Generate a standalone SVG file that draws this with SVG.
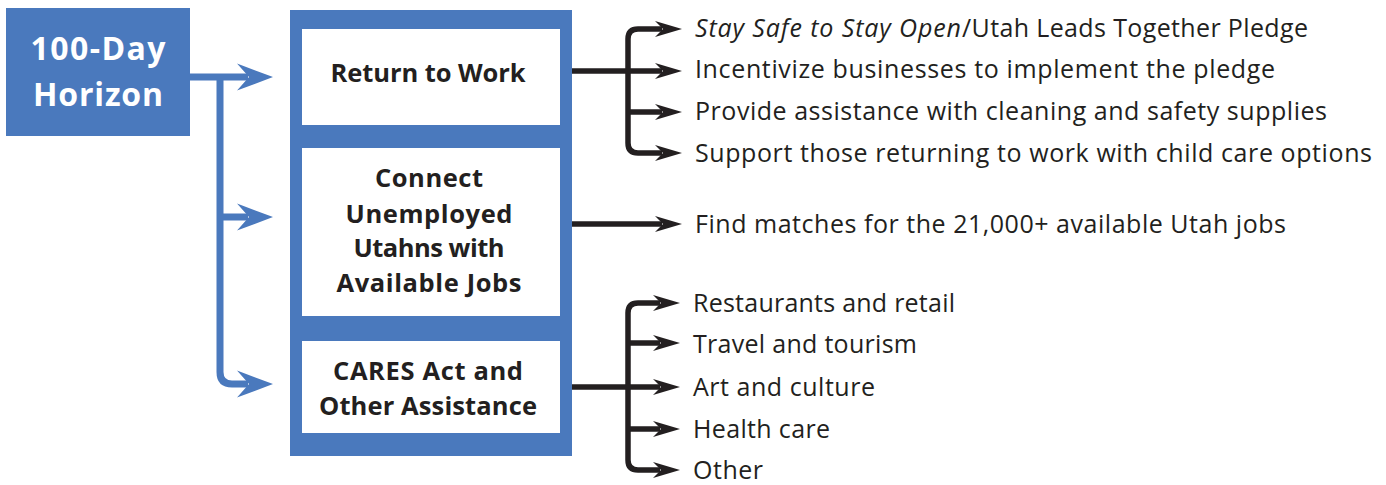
<svg xmlns="http://www.w3.org/2000/svg" xmlns:xlink="http://www.w3.org/1999/xlink" width="1386" height="485" viewBox="0 0 1386 485">
<style>
.blue{fill:#4a79bd}
.white{fill:#ffffff}
.ttl{font-family:"Open Sans","Noto Sans",sans-serif;font-weight:700;font-size:32px;fill:#ffffff;text-anchor:middle}
.bx{font-family:"Open Sans","Noto Sans",sans-serif;font-weight:700;font-size:25.5px;fill:#231f20;text-anchor:middle}
.it{font-family:"Open Sans","Noto Sans",sans-serif;font-size:25px;fill:#231f20}
.bl{fill:none;stroke:#4a79bd;stroke-width:7}
.bk{fill:none;stroke:#231f20;stroke-width:5.5}
.bkh{fill:#231f20}
.blh{fill:#4a79bd}
</style>
<defs>
<path id="bah" d="M0,0 L-36,-13.5 L-24,0 L-36,13.5 Z"/>
<path id="kah" d="M0,0 L-27,-8 L-19,0 L-27,8 Z"/>
</defs>
<g id="horizon">
<rect class="blue" x="6" y="8" width="184" height="128"/>
<text class="ttl" x="98" y="60" textLength="135">100-Day</text>
<text class="ttl" x="98" y="106" textLength="130">Horizon</text>
</g>
<g id="panel">
<rect class="blue" x="290" y="10" width="282" height="446"/>
</g>
<g id="return-to-work">
<rect class="white" x="302" y="29" width="258" height="96"/>
<text class="bx" x="428" y="82" textLength="195">Return to Work</text>
</g>
<g id="connect-unemployed">
<rect class="white" x="302" y="148" width="258" height="168"/>
<text class="bx" x="429" y="187" textLength="108">Connect</text>
<text class="bx" x="429" y="223" textLength="167">Unemployed</text>
<text class="bx" x="429" y="257" textLength="151">Utahns with</text>
<text class="bx" x="429" y="292" textLength="185">Available Jobs</text>
</g>
<g id="cares-act">
<rect class="white" x="302" y="341" width="258" height="92"/>
<text class="bx" x="428" y="380" textLength="190">CARES Act and</text>
<text class="bx" x="428" y="415" textLength="218">Other Assistance</text>
</g>
<g id="connectors">
<path class="bl" d="M190,77 H248 M220,77 V372 Q220,384 232,384 H248 M220,217 H248"/>
<use xlink:href="#bah" class="blh" x="273" y="77"/>
<use xlink:href="#bah" class="blh" x="273" y="217"/>
<use xlink:href="#bah" class="blh" x="273" y="384"/>
<path class="bk" d="M572,71 H662 M662,29 H638 Q628,29 628,39 V143 Q628,153 638,153 H662 M628,112 H662"/>
<use xlink:href="#kah" class="bkh" x="682" y="29"/>
<use xlink:href="#kah" class="bkh" x="682" y="71"/>
<use xlink:href="#kah" class="bkh" x="682" y="112"/>
<use xlink:href="#kah" class="bkh" x="682" y="153"/>
<path class="bk" d="M572,224 H662"/>
<use xlink:href="#kah" class="bkh" x="682" y="224"/>
<path class="bk" d="M572,387 H660 M660,303 H638 Q628,303 628,313 V460 Q628,470 638,470 H660 M628,343 H660 M628,429 H660"/>
<use xlink:href="#kah" class="bkh" x="680" y="303"/>
<use xlink:href="#kah" class="bkh" x="680" y="343"/>
<use xlink:href="#kah" class="bkh" x="680" y="387"/>
<use xlink:href="#kah" class="bkh" x="680" y="429"/>
<use xlink:href="#kah" class="bkh" x="680" y="470"/>
</g>
<g id="labels">
<text class="it" y="37"><tspan x="695" font-style="italic" textLength="266">Stay Safe to Stay Open</tspan><tspan x="962" textLength="346">/Utah Leads Together Pledge</tspan></text>
<text class="it" x="695" y="78" textLength="580">Incentivize businesses to implement the pledge</text>
<text class="it" x="695" y="120" textLength="632">Provide assistance with cleaning and safety supplies</text>
<text class="it" x="695" y="162" textLength="677">Support those returning to work with child care options</text>
<text class="it" x="695" y="233" textLength="591">Find matches for the 21,000+ available Utah jobs</text>
<text class="it" x="693" y="312" textLength="262">Restaurants and retail</text>
<text class="it" x="693" y="353" textLength="224">Travel and tourism</text>
<text class="it" x="693" y="396" textLength="182">Art and culture</text>
<text class="it" x="693" y="438" textLength="137">Health care</text>
<text class="it" x="693" y="479" textLength="70">Other</text>
</g>
</svg>
